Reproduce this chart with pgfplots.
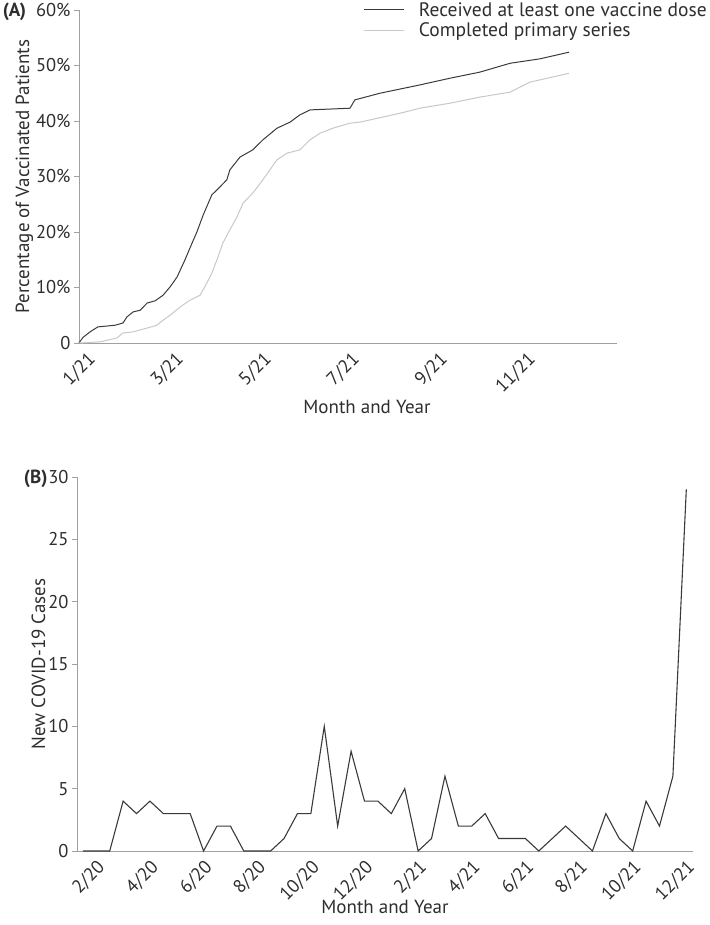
\documentclass[border=0pt]{standalone}
\usepackage{fontspec}
\setmainfont{PT Sans}
\usepackage{pgfplots}
\pgfplotsset{compat=1.18}
\definecolor{darkline}{HTML}{3A3A3A}
\definecolor{lightline}{HTML}{C8C8C8}
\definecolor{axisgray}{HTML}{A0A0A0}
\definecolor{textgray}{HTML}{2E2E2E}

\pgfplotsset{
  panel/.style={
    scale only axis,
    axis lines=left,
    axis line style={-, axisgray, line width=0.9pt},
    tick align=outside,
    major tick length=5pt,
    ytick style={axisgray, line width=0.9pt},
    xtick style={draw=none},
    xticklabel style={rotate=45, anchor=north east, inner sep=2pt},
    tick label style={text=textgray, font=\fontsize{18.5}{20}\selectfont},
    label style={text=textgray, font=\fontsize{19}{22}\selectfont},
    /pgf/number format/assume math mode=true,
    clip=false,
  }
}

\begin{document}
\begin{tikzpicture}[x=1pt, y=1pt, font=\fontsize{19}{22}\selectfont]
\path[use as bounding box] (0,0) rectangle (709,925);
\coordinate (pa) at (79,582);
\coordinate (pb) at (77,74);

% (A) vaccination
\begin{axis}[panel,
  at={(pa)}, anchor=south west,
  width=538pt, height=333pt,
  xmin=-0.18, xmax=12.05,
  ymin=0, ymax=60,
  xtick={0,2,4,6,8,10},
  xticklabels={1/21,3/21,5/21,7/21,9/21,11/21},
  ytick={0,10,20,30,40,50,60},
  yticklabels={0,10\%,20\%,30\%,40\%,50\%,60\%},
  xlabel={Month and Year},
  ylabel={Percentage of Vaccinated Patients},
  xlabel style={xshift=19pt, yshift=2pt},
  ylabel style={yshift=-4pt},
  legend style={at={(1.171,1.03)}, anchor=north east, draw=none, fill=none,
    inner sep=0pt, row sep=1pt, text=textgray,
    font=\fontsize{19.5}{22}\selectfont},
  legend cell align=left,
  legend image code/.code={\draw[#1] (0pt,0pt) -- (40pt,0pt); \path (52pt,0pt);},
]
\addplot[darkline, line width=1pt] coordinates {
  (-0.18,0) (-0.09,1.0) (0.07,2.0) (0.25,2.9) (0.64,3.2) (0.82,3.6) (0.91,4.7)
  (1.05,5.6) (1.21,5.9) (1.37,7.2) (1.55,7.6) (1.73,8.6) (1.89,10.1) (2.05,11.9)
  (2.23,15.0) (2.39,18.0) (2.50,20.0) (2.64,23.0) (2.84,26.7) (2.96,27.6)
  (3.18,29.4) (3.25,31.2) (3.48,33.5) (3.77,34.8) (4.00,36.6) (4.32,38.7)
  (4.62,39.8) (4.84,41.1) (5.07,42.0) (5.98,42.3) (6.09,43.8) (6.66,45.0)
  (7.57,46.5) (8.25,47.7) (8.93,48.8) (9.62,50.4) (10.30,51.2) (10.96,52.4)
};
\addlegendentry{Received at least one vaccine dose}
\addplot[lightline, line width=1pt] coordinates {
  (-0.18,0) (0.30,0.2) (0.68,0.9) (0.82,1.8) (1.05,2.0) (1.37,2.7) (1.59,3.2)
  (1.73,4.1) (1.89,5.0) (2.12,6.5) (2.34,7.7) (2.57,8.6) (2.68,10.1) (2.84,12.6)
  (2.98,15.5) (3.09,18.0) (3.25,20.4) (3.41,22.7) (3.55,25.2) (3.77,27.0)
  (4.00,29.4) (4.32,33.0) (4.55,34.2) (4.84,34.8) (5.07,36.6) (5.30,37.8)
  (5.59,38.7) (5.98,39.6) (6.21,39.8) (7.12,41.4) (7.57,42.3) (8.25,43.2)
  (8.93,44.3) (9.62,45.2) (10.07,47.0) (10.96,48.6)
};
\addlegendentry{Completed primary series}
\node[anchor=west, font=\fontsize{19}{20}\selectfont\bfseries, text=textgray]
  at (rel axis cs:-0.148,0.995) {(A)};
\end{axis}

% (B) new cases
\begin{axis}[panel,
  at={(pb)}, anchor=south west,
  width=616pt, height=374pt,
  xmin=1.28, xmax=24.25,
  ymin=0, ymax=30,
  xtick={2,4,...,24},
  xticklabels={2/20,4/20,6/20,8/20,10/20,12/20,2/21,4/21,6/21,8/21,10/21,12/21},
  ytick={0,5,...,30},
  yticklabels={0,5,10,15,20,25,30},
  xlabel={Month and Year},
  ylabel={New COVID-19 Cases},
  xlabel style={yshift=10pt},
  ylabel style={yshift=-4pt},
]
\addplot[darkline, line width=1.1pt] table[x=m, y=n] {
m n
1.5 0
2.0 0
2.5 0
3.0 4
3.5 3
4.0 4
4.5 3
5.0 3
5.5 3
6.0 0
6.5 2
7.0 2
7.5 0
8.0 0
8.5 0
9.0 1
9.5 3
10.0 3
10.5 10
11.0 2
11.5 8
12.0 4
12.5 4
13.0 3
13.5 5
14.0 0
14.5 1
15.0 6
15.5 2
16.0 2
16.5 3
17.0 1
17.5 1
18.0 1
18.5 0
19.0 1
19.5 2
20.0 1
20.5 0
21.0 3
21.5 1
22.0 0
22.5 4
23.0 2
23.5 6
24.0 29
};
\node[anchor=east, font=\fontsize{19}{20}\selectfont\bfseries, text=textgray]
  at (rel axis cs:-0.042,0.995) {(B)};
\end{axis}
\end{tikzpicture}
\end{document}
